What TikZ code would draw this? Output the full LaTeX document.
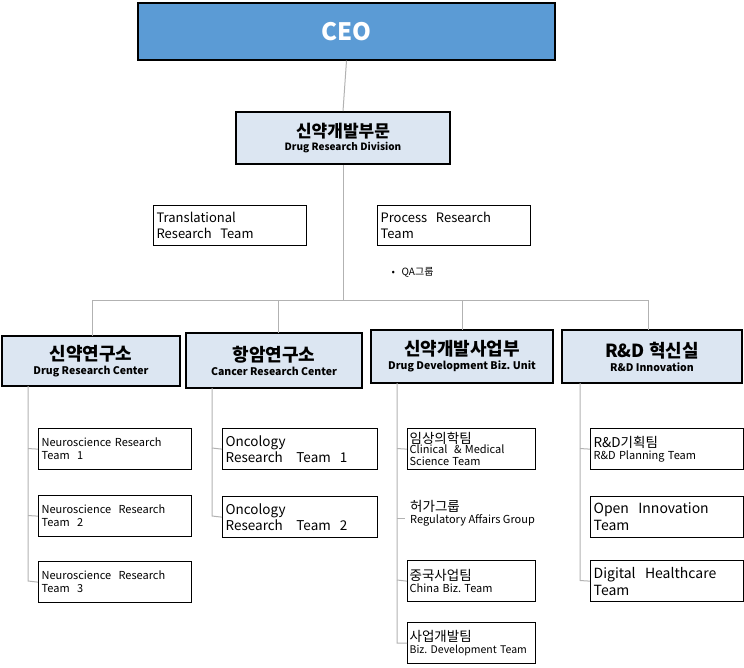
\documentclass[tikz,border=0pt]{standalone}
\usepackage{fontspec}
\setmainfont{Noto Sans CJK KR}
\frenchspacing
\begin{document}
\begin{tikzpicture}[x=1pt,y=-1pt,
 ln/.style={draw=gray!60,line width=1pt},
 head/.style={draw=black,line width=1.8pt,fill=blue!6!cyan!8,align=center,inner sep=0pt}]
\useasboundingbox (0,0) rectangle (744,667);
\node[draw=black,line width=1.2pt,fill={rgb,255:red,91;green,155;blue,213},minimum width=417pt,minimum height=57pt,text=white,font=\fontsize{24}{24}\selectfont\bfseries] (ceo) at (346.5,31.5) {CEO};
\node[head,minimum width=214pt,minimum height=52pt,fill={rgb,255:red,220;green,230;blue,242}] (div) at (343,138) {{\fontsize{17}{19}\selectfont\bfseries 신약개발부문}\\[1pt]{\fontsize{10}{11}\selectfont\bfseries Drug Research Division}};
\node[draw=black,line width=1.2pt,minimum width=153pt,minimum height=40pt,anchor=north west,align=left,inner sep=3pt,text width=147pt,font=\fontsize{13}{16}\selectfont] (tr) at (153,205) {Translational\\Research\ \ Team};
\node[draw=black,line width=1.2pt,minimum width=153pt,minimum height=40pt,anchor=north west,align=left,inner sep=3pt,text width=147pt,font=\fontsize{13}{16}\selectfont] (pr) at (377,205) {Process\ \ Research\\Team};
\node[anchor=west,font=\fontsize{10}{11}\selectfont] (qa) at (388,272) {•\ \ \ QA그룹};
\coordinate (j) at (343,300);
\draw[ln] (ceo.south) -- (div.north);
\draw[ln] (div.south) -- (j);
\tikzset{lv/.style={head,fill={rgb,255:red,220;green,230;blue,242}}}
\node[lv,minimum width=178pt,minimum height=50pt] (a) at (91,361) {{\fontsize{18}{20}\selectfont\bfseries 신약연구소}\\[2pt]{\fontsize{10.5}{11}\selectfont\bfseries Drug Research Center}};
\node[lv,minimum width=176pt,minimum height=55pt] (b) at (274,360.5) {{\fontsize{18}{20}\selectfont\bfseries 항암연구소}\\[2pt]{\fontsize{10.5}{11}\selectfont\bfseries Cancer Research Center}};
\node[lv,minimum width=182pt,minimum height=53pt] (c) at (462,356.5) {{\fontsize{18}{20}\selectfont\bfseries 신약개발사업부}\\[2pt]{\fontsize{10.5}{11}\selectfont\bfseries Drug Development Biz. Unit}};
\node[lv,minimum width=180pt,minimum height=53pt] (d) at (652,356.5) {{\fontsize{18}{20}\selectfont\bfseries R\&D 혁신실}\\[2pt]{\fontsize{10.5}{11}\selectfont\bfseries R\&D Innovation}};
\draw[ln] (92,300) -- (648,300);
\draw[ln] (92,300) -- (92,336);
\draw[ln] (278,300) -- (278,333);
\draw[ln] (462,300) -- (462,330);
\draw[ln] (648,300) -- (648,330);
\tikzset{bx/.style={draw=black,line width=1.3pt,anchor=north west,minimum width=153pt,minimum height=41pt,align=left,text width=147pt,inner sep=3pt}}
\node[bx,font=\fontsize{11}{13}\selectfont] (a1) at (38,428) {Neuroscience Research\\Team\ \ 1};
\node[bx,font=\fontsize{11}{13}\selectfont] (a2) at (38,495) {Neuroscience\ \ Research\\Team\ \ 2};
\node[bx,font=\fontsize{11}{13}\selectfont] (a3) at (38,561) {Neuroscience\ \ Research\\Team\ \ 3};
\draw[ln] (28,386) -- (28,581) -- (a3.west); \draw[ln] (28,448.5) -- (a1.west); \draw[ln] (28,515.5) -- (a2.west);
\node[bx,minimum width=155pt,text width=149pt,font=\fontsize{13.5}{13}\selectfont] (b1) at (222,428) {Oncology\\Research\ \ \ Team\ \ 1};
\node[bx,minimum width=155pt,text width=149pt,font=\fontsize{13.5}{13}\selectfont] (b2) at (222,496) {Oncology\\Research\ \ \ Team\ \ 2};
\draw[ln] (212,388) -- (212,516) -- (b2.west); \draw[ln] (212,448) -- (b1.west);
\node[bx,minimum width=128pt,text width=124pt,inner sep=1pt] (c1) at (407,428) {{\fontsize{13.5}{11}\selectfont 임상의학팀}\\{\fontsize{11}{10}\selectfont Clinical\ \ \& Medical\\Science Team}};
\node[anchor=north west,align=left,inner sep=3pt] (c2) at (407,497) {{\fontsize{13.5}{16}\selectfont 허가그룹}\\{\fontsize{11}{13}\selectfont Regulatory Affairs Group}};
\node[bx,minimum width=128pt,text width=124pt,inner sep=2pt] (c3) at (407,560) {{\fontsize{13.5}{16}\selectfont 중국사업팀}\\{\fontsize{11}{13}\selectfont China Biz. Team}};
\node[bx,minimum width=128pt,text width=124pt,inner sep=2pt] (c4) at (407,622) {{\fontsize{13.5}{16}\selectfont 사업개발팀}\\{\fontsize{10.5}{13}\selectfont Biz. Development Team}};
\draw[ln] (397,383) -- (397,643) -- (c4.west); \draw[ln] (397,448.5) -- (c1.west);
\draw[ln] (397,518) -- (405,518); \draw[ln] (397,580) -- (c3.west);
\node[bx,minimum width=153pt,text width=147pt] (d1) at (590,428) {{\fontsize{13.5}{16}\selectfont R\&D기획팀}\\{\fontsize{11}{13}\selectfont R\&D Planning Team}};
\node[bx,minimum width=153pt,text width=147pt,font=\fontsize{14}{17}\selectfont] (d2) at (590,496) {Open\ \ Innovation\\Team};
\node[bx,minimum width=153pt,text width=147pt,font=\fontsize{14}{17}\selectfont] (d3) at (590,560) {Digital\ \ Healthcare\\Team};
\draw[ln] (580,383) -- (580,580.5) -- (d3.west); \draw[ln] (580,448.5) -- (d1.west);
\end{tikzpicture}
\end{document}
